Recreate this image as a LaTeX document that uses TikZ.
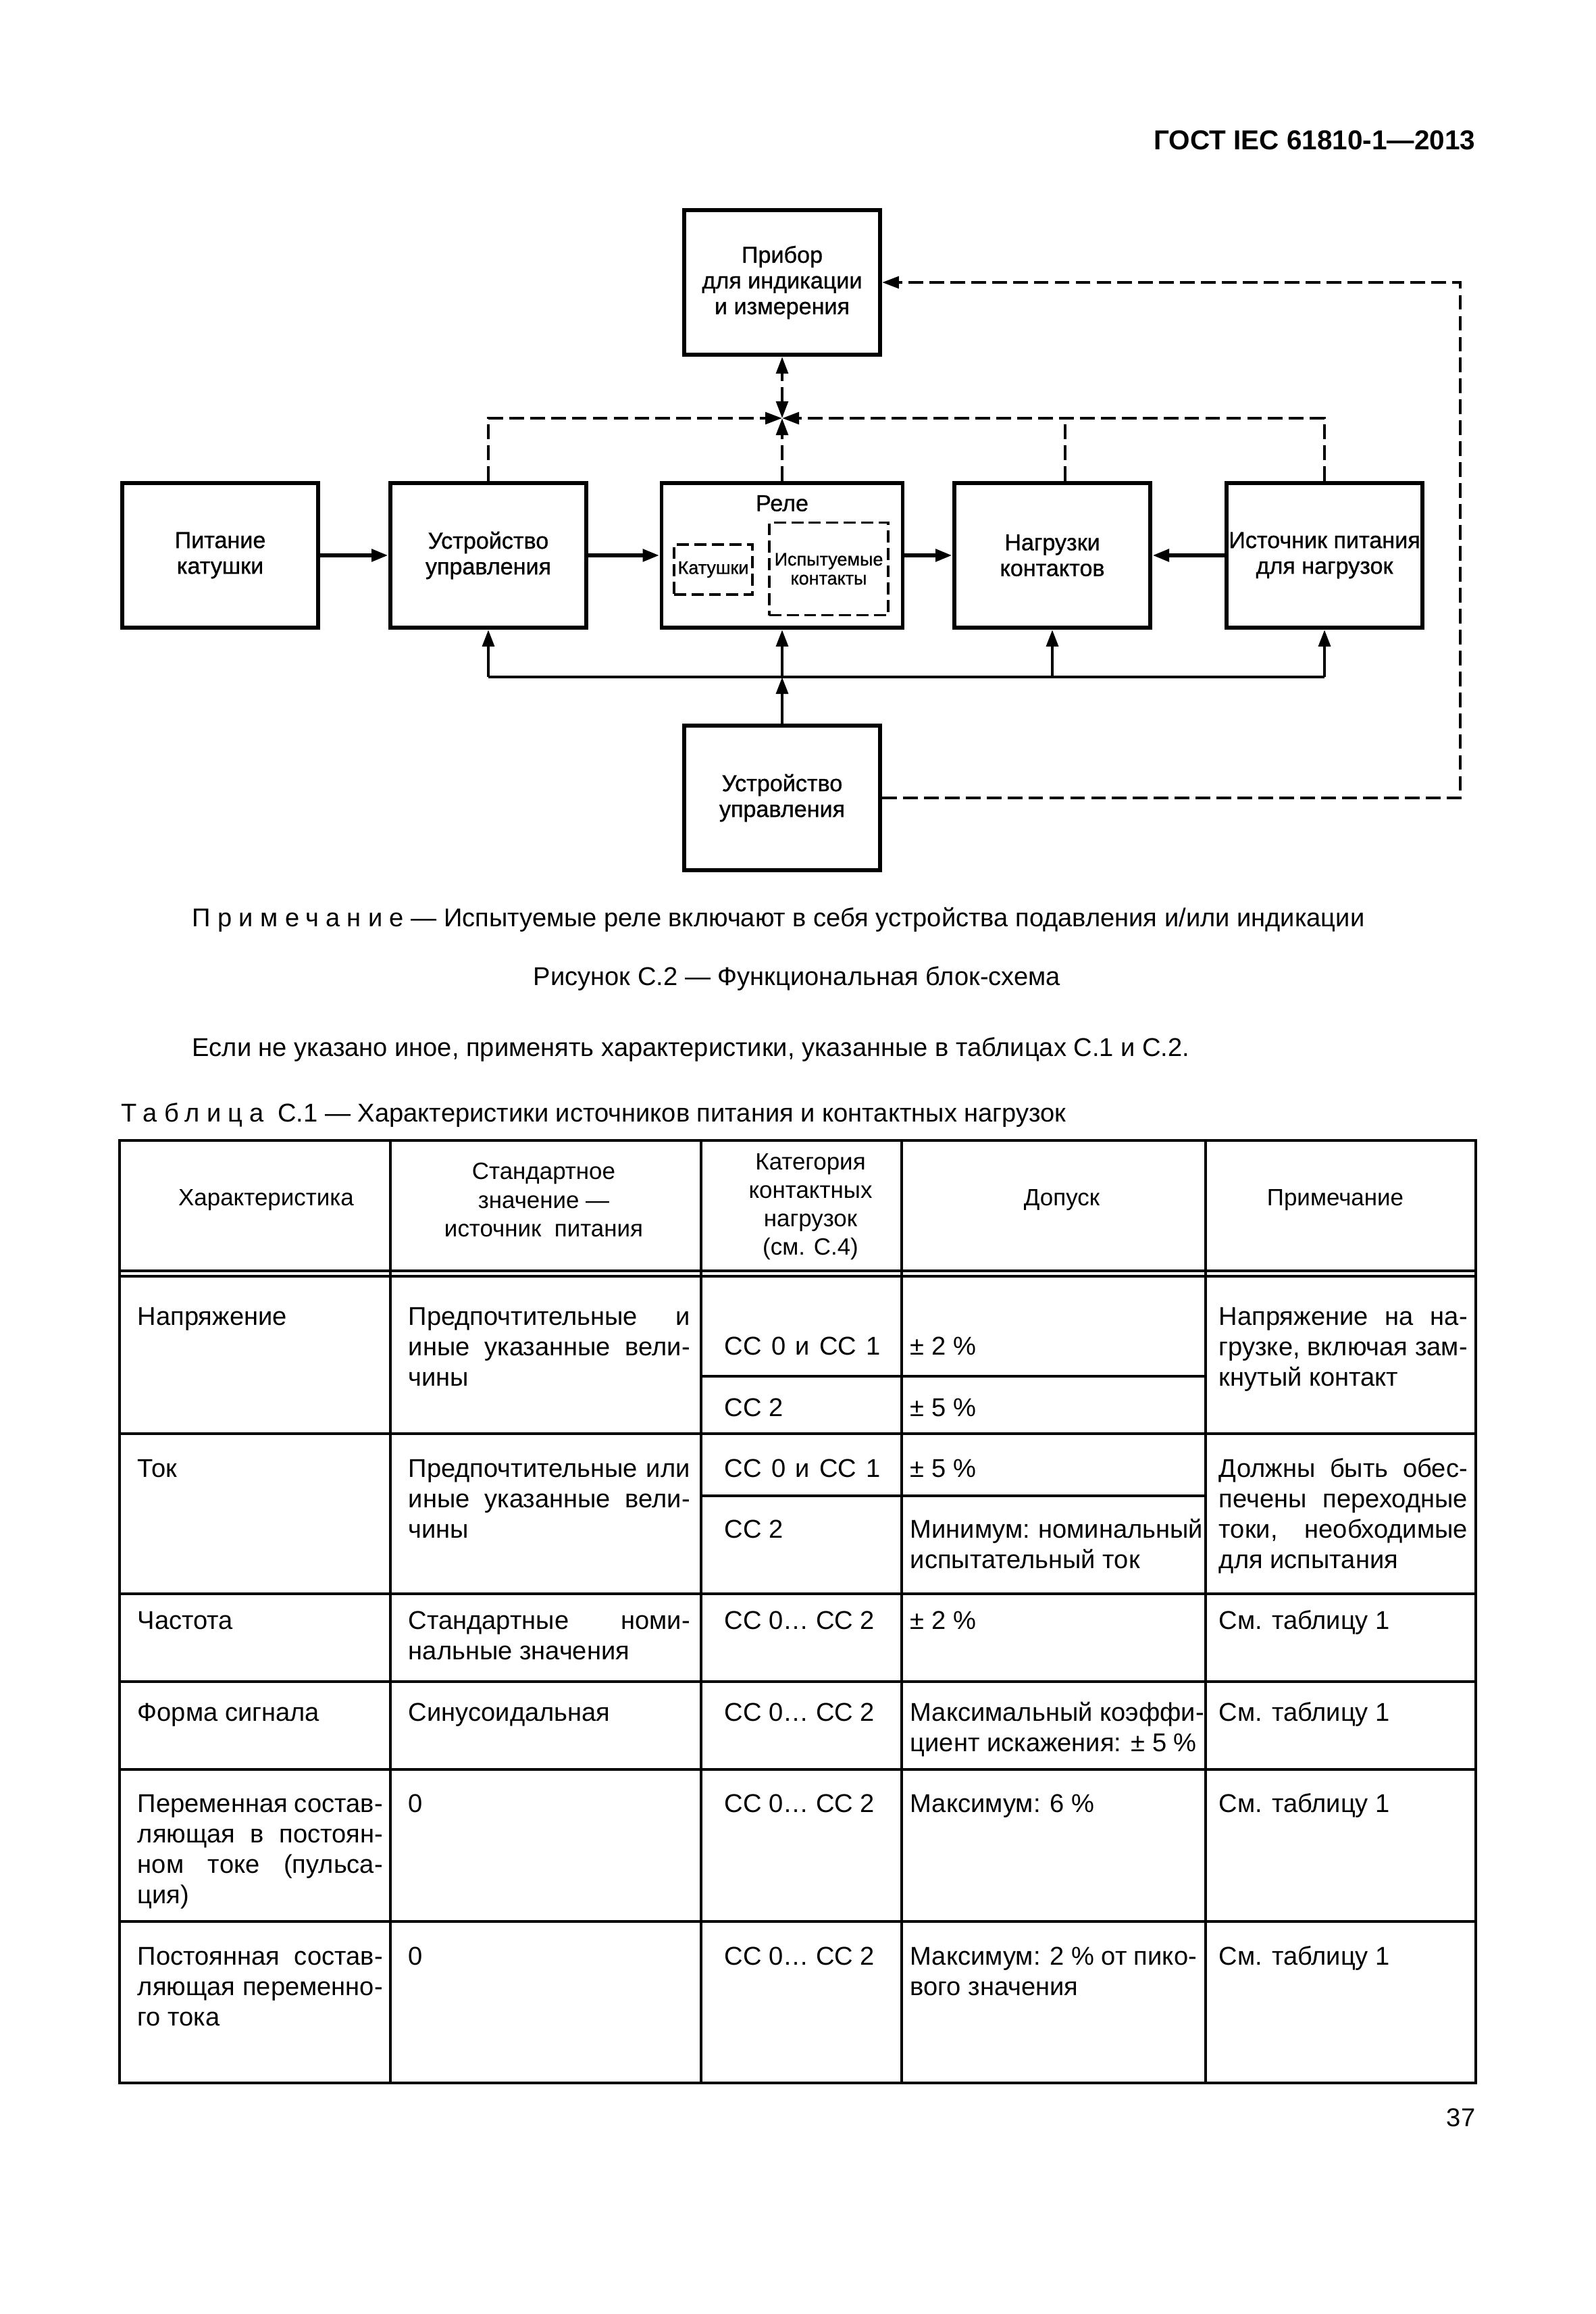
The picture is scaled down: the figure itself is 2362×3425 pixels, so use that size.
\documentclass[tikz,border=0pt]{standalone}
\usepackage{fontspec}
\setmainfont{Liberation Sans}
\newfontfamily\diagfam[FakeBold=0.8]{Liberation Sans}
\usetikzlibrary{arrows.meta}
\newlength\pxu \setlength\pxu{0.252pt}
\newcommand\jl[2]{\makebox[#1\pxu][s]{#2}}
\newcommand\cellt[1]{\begin{tabular}[t]{@{}l@{}}#1\end{tabular}}
\newcommand\diagf{\diagfam\fontsize{8.6}{9.6}\selectfont}
\newcommand\smallf{\diagfam\fontsize{6.8}{7.1}\selectfont}
\newcommand\bodyf{\fontsize{9.6}{11.5}\selectfont}
\newcommand\tabf{\fontsize{9.6}{11.34}\selectfont}
\newcommand\hdrf{\fontsize{8.8}{10.6}\selectfont}
\begin{document}
\begin{tikzpicture}[x=0.252pt,y=-0.252pt,
  >={Triangle[length=6.3pt,width=4.4pt]},
  blk/.style={draw, line width=1.5pt, minimum width=290\pxu, minimum height=214\pxu, align=center, font=\diagf, inner sep=0pt},
  dbox/.style={draw, line width=0.9pt, dash pattern=on 4.5pt off 2pt, align=center, font=\smallf, inner sep=0pt},
  sol/.style={line width=1.6pt, ->},
  busl/.style={line width=1.2pt},
  busar/.style={line width=1.2pt, ->},
  dsh/.style={line width=1.1pt, dash pattern=on 5.5pt off 2.3pt},
  txt/.style={anchor=base west, inner sep=0pt, font=\bodyf},
  cell/.style={anchor=base west, inner sep=0pt, font=\tabf},
  hdr/.style={anchor=center, inner sep=0pt, align=center, font=\hdrf},
  tline/.style={line width=0.8pt},
  trow/.style={line width=1pt}
]
\fill[white] (0,0) rectangle (2362,3425);
\useasboundingbox (0,0) rectangle (2362,3425);

% header
\node[anchor=base east, inner sep=0pt, font=\fontsize{10.2}{12}\selectfont\bfseries] (gost) at (2185,222) {ГОСТ IEC 61810-1—2013};

% diagram blocks
\node[blk] (pribor) at (1158,418) {Прибор\\для индикации\\и измерения};
\node[blk] (pit) at (326,822) {Питание\\катушки};
\node[blk] (ust1) at (723,822) {Устройство\\управления};
\node[blk, minimum width=357\pxu] (rele) at (1158,822) {};
\node[blk] (nag) at (1558,822) {Нагрузки\\контактов};
\node[blk] (ist) at (1961,822) {Источник питания\\для нагрузок};
\node[blk] (ust2) at (1158,1181) {Устройство\\управления};

\node[inner sep=0pt, font=\diagf] (relel) at (1158,745) {Реле};
\node[dbox, minimum width=116\pxu, minimum height=74\pxu] (kat) at (1056,843) {Катушки};
\node[dbox, minimum width=176\pxu, minimum height=137\pxu] (isp) at (1227,842) {Испытуемые\\контакты};

% solid arrows
\draw[sol] (pit) -- (ust1);
\draw[sol] (ust1) -- (rele);
\draw[sol] (rele) -- (nag);
\draw[sol] (ist) -- (nag);

% bus
\coordinate (bus) at (1158,1002);
\draw[busl] (ust1.south |- bus) -- (ist.south |- bus);
\draw[busar] (ust2.north) -- (bus);
\draw[busar] (bus) -- (rele.south);
\draw[busar] (ust1.south |- bus) -- (ust1.south);
\draw[busar] (nag.south |- bus) -- (nag.south);
\draw[busar] (ist.south |- bus) -- (ist.south);

% dashed measurement lines
\coordinate (J) at (1158,619);
\coordinate (nagT) at (1577,619);
\coordinate (R1) at (2162,1181);
\draw[dsh, ->] (ust1.north) |- (J);
\draw[dsh, ->] (rele.north) -- (J);
\draw[dsh, ->] (ist.north) |- (J);
\draw[dsh] (nag.north -| nagT) -- (nagT);
\draw[dsh, <->] (J) -- (pribor.south);
\draw[dsh, ->] (ust2.east) -- (ust2.east -| R1) |- (pribor.east);

% texts
\node[txt] (note) at (284,1371) {{\addfontfeature{LetterSpace=27}Примечание} — Испытуемые реле включают в себя устройства подавления и/или индикации};
\node[anchor=base, inner sep=0pt, font=\bodyf] (cap) at (1180,1458) {Рисунок С.2 — Функциональная блок-схема};
\node[txt] (para) at (284,1563) {Если не указано иное, применять характеристики, указанные в таблицах С.1 и С.2.};
\node[txt] (ttl) at (179,1660) {{\addfontfeature{LetterSpace=27}Таблица}\hspace{2.5pt} С.1 — Характеристики источников питания и контактных нагрузок};
\node[anchor=base east, inner sep=0pt, font=\bodyf] (pg) at (2185,3147) {37};

% table grid
\draw[line width=1pt] (177,1688) rectangle (2185,3083);
\draw[tline] (177,1881) -- (2185,1881);
\draw[tline] (177,1889) -- (2185,1889);
\foreach \cx in {578,1038,1335,1785} \draw[tline] (\cx,1688) -- (\cx,3083);
\foreach \ry in {2122,2359,2489,2619,2844} \draw[trow] (177,\ry) -- (2185,\ry);
\draw[trow] (1038,2037) -- (1785,2037);
\draw[trow] (1038,2214) -- (1785,2214);

% table header
\node[hdr] (h1) at (394,1776) {Характеристика};
\node[hdr] (h2) at (805,1776) {Стандартное\\значение —\\источник\ \ питания};
\node[hdr] (h3) at (1200,1786) {Категория\\контактных\\нагрузок\\(см. С.4)};
\node[hdr] (h4) at (1572,1776) {Допуск};
\node[hdr] (h5) at (1977,1776) {Примечание};

% row 1
\node[cell] (c11) at (203,1961) {Напряжение};
\node[cell] (c12) at (604,1961) {\cellt{\jl{417}{Предпочтительные и}\\\jl{417}{иные указанные вели-}\\чины}};
\node[cell] (c13a) at (1072,2005) {\jl{231}{CC 0 и CC 1}};
\node[cell] (c13b) at (1072,2096) {CC 2};
\node[cell] (c14a) at (1347,2005) {± 2 \%};
\node[cell] (c14b) at (1347,2096) {± 5 \%};
\node[cell] (c15) at (1804,1961) {\cellt{\jl{368}{Напряжение на на-}\\\jl{368}{грузке, включая зам-}\\кнутый контакт}};

% row 2
\node[cell] (c21) at (203,2186) {Ток};
\node[cell] (c22) at (604,2186) {\cellt{\jl{417}{Предпочтительные или}\\\jl{417}{иные указанные вели-}\\чины}};
\node[cell] (c23a) at (1072,2186) {\jl{231}{CC 0 и CC 1}};
\node[cell] (c24a) at (1347,2186) {± 5 \%};
\node[cell] (c23b) at (1072,2276) {CC 2};
\node[cell] (c24b) at (1347,2276) {\cellt{\jl{424}{Минимум: номинальный}\\испытательный ток}};
\node[cell] (c25) at (1804,2186) {\cellt{\jl{368}{Должны быть обес-}\\\jl{368}{печены переходные}\\\jl{368}{токи, необходимые}\\для испытания}};

% row 3
\node[cell] (c31) at (203,2411) {Частота};
\node[cell] (c32) at (604,2411) {\cellt{\jl{417}{Стандартные номи-}\\нальные значения}};
\node[cell] (c33) at (1072,2411) {CC 0… CC 2};
\node[cell] (c34) at (1347,2411) {± 2 \%};
\node[cell] (c35) at (1804,2411) {См. таблицу 1};

% row 4
\node[cell] (c41) at (203,2547) {Форма сигнала};
\node[cell] (c42) at (604,2547) {Синусоидальная};
\node[cell] (c43) at (1072,2547) {CC 0… CC 2};
\node[cell] (c44) at (1347,2547) {\cellt{Максимальный коэффи-\\\jl{424}{циент искажения: ± 5 \%}}};
\node[cell] (c45) at (1804,2547) {См. таблицу 1};

% row 5
\node[cell] (c51) at (203,2682) {\cellt{\jl{363}{Переменная состав-}\\\jl{363}{ляющая в постоян-}\\\jl{363}{ном токе (пульса-}\\ция)}};
\node[cell] (c52) at (604,2682) {0};
\node[cell] (c53) at (1072,2682) {CC 0… CC 2};
\node[cell] (c54) at (1347,2682) {Максимум: 6 \%};
\node[cell] (c55) at (1804,2682) {См. таблицу 1};

% row 6
\node[cell] (c61) at (203,2908) {\cellt{\jl{363}{Постоянная состав-}\\\jl{363}{ляющая переменно-}\\го тока}};
\node[cell] (c62) at (604,2908) {0};
\node[cell] (c63) at (1072,2908) {CC 0… CC 2};
\node[cell] (c64) at (1347,2908) {\cellt{\jl{424}{Максимум: 2 \% от пико-}\\вого значения}};
\node[cell] (c65) at (1804,2908) {См. таблицу 1};
\end{tikzpicture}
\end{document}
